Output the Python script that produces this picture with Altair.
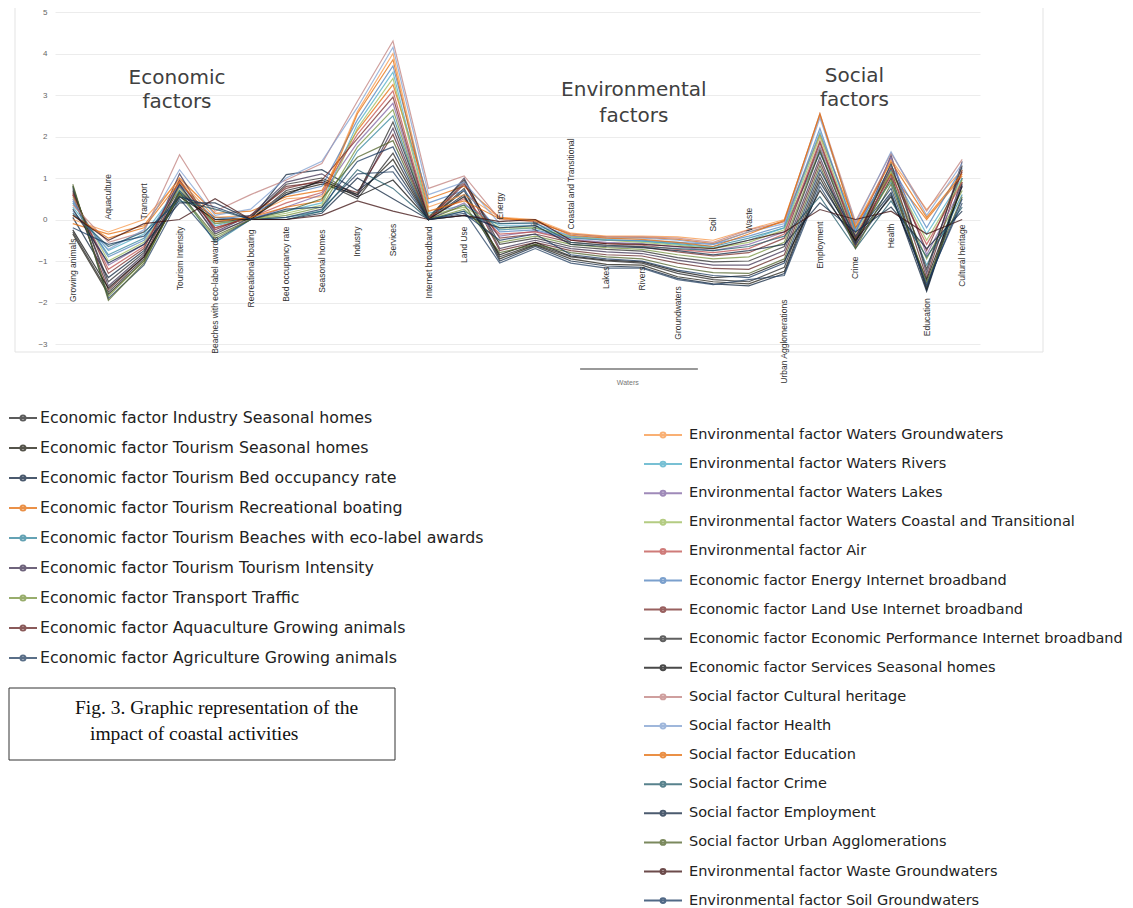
import altair as alt
import pandas as pd

categories = ["Growing animals", "Aquaculture", "Transport", "Tourism Intensity",
              "Beaches with eco-label awards", "Recreational boating", "Bed occupancy rate",
              "Seasonal homes", "Industry", "Services", "Internet broadband", "Land Use",
              "Energy", "Air", "Coastal and Transitional", "Lakes", "Rivers", "Groundwaters",
              "Soil", "Waste", "Urban Agglomerations", "Employment", "Crime", "Health",
              "Education", "Cultural heritage"]

# label anchor (value) and whether the label hangs below the anchor ("top") or rises above it ("bottom")
label_anchor = [-0.46, 0.0, 0.0, -0.17, -0.41, -0.24, -0.17, -0.24, -0.17, -0.1, -0.17, -0.17,
                0.0, -0.29, -0.24, -1.13, -1.13, -1.61, -0.29, -0.29, -1.93, -0.05, -0.89, -0.1,
                -1.9, -0.12]
label_side = ["top", "bottom", "bottom", "top", "top", "top", "top", "top", "top", "top", "top", "top",
              "bottom", "bottom", "bottom", "top", "top", "top", "bottom", "bottom", "top", "top", "top", "top",
              "top", "top"]

left_series = ["Economic factor Industry Seasonal homes",
               "Economic factor Tourism Seasonal homes",
               "Economic factor Tourism Bed occupancy rate",
               "Economic factor Tourism Recreational boating",
               "Economic factor Tourism Beaches with eco-label awards",
               "Economic factor Tourism Tourism Intensity",
               "Economic factor Transport Traffic",
               "Economic factor Aquaculture Growing animals",
               "Economic factor Agriculture Growing animals"]
right_series = ["Environmental factor Waters Groundwaters",
                "Environmental factor Waters Rivers",
                "Environmental factor Waters Lakes",
                "Environmental factor Waters Coastal and Transitional",
                "Environmental factor Air",
                "Economic factor Energy Internet broadband",
                "Economic factor Land Use Internet broadband",
                "Economic factor Economic Performance  Internet broadband",
                "Economic factor Services Seasonal homes",
                "Social factor Cultural heritage",
                "Social factor Health",
                "Social factor Education",
                "Social factor Crime",
                "Social factor Employment",
                "Social factor Urban Agglomerations",
                "Environmental factor Waste Groundwaters",
                "Environmental factor Soil Groundwaters"]

left_colors = ["#262626", "#1d1b10", "#0f243e", "#e46c0a", "#31849b", "#3f3151", "#76923c", "#632423", "#244061"]
right_colors = ["#f79646", "#4bacc6", "#8064a2", "#9bbb59", "#c0504d", "#4f81bd", "#772c2a", "#2b2b2b",
                "#0d0d0d", "#c0807e", "#7f9fd0", "#e36c09", "#215968", "#10253f", "#4f6228", "#3c0f0f", "#17375e"]

# values per series, in category order
econ_industry_seasonal = [-0.3, -1.75, -0.95, 0.7, -0.1, 0.0, 0.7, 0.9, 0.5, 1.6, 0.0, 0.75, -0.9, -0.6, -0.9, -1.0, -1.05, -1.3, -1.45, -1.5, -1.15, 1.1, -0.5, 1.1, -1.65, 1.0]
econ_tourism_seasonal = [-0.35, -1.8, -1.0, 0.65, -0.05, 0.0, 0.65, 0.85, 0.6, 1.45, 0.0, 0.7, -0.95, -0.62, -0.95, -1.08, -1.1, -1.38, -1.5, -1.55, -1.25, 1.0, -0.55, 1.0, -1.7, 0.9]
econ_tourism_bed = [0.05, -1.4, -0.75, 0.6, 0.05, 0.0, 1.08, 1.2, 0.7, 1.3, 0.0, 0.6, -1.0, -0.65, -1.0, -1.12, -1.15, -1.42, -1.55, -1.6, -1.3, 0.9, -0.45, 0.65, -1.73, 0.85]
econ_tourism_boating = [-0.1, -0.35, -0.15, 1.0, 0.15, 0.2, 0.55, 0.7, 2.15, 3.25, 0.5, 0.8, 0.05, -0.05, -0.35, -0.42, -0.43, -0.48, -0.58, -0.3, -0.05, 2.05, -0.1, 1.1, 0.0, 1.05]
econ_tourism_beaches = [0.4, -0.85, -0.45, 0.7, -0.55, 0.0, 0.05, 0.2, 1.65, 2.5, 0.0, 0.2, -0.25, -0.2, -0.44, -0.5, -0.52, -0.58, -0.65, -0.45, -0.2, 1.6, -0.2, 0.9, -1.1, 0.6]
econ_tourism_intensity = [0.75, -1.6, -0.85, 1.1, -0.3, 0.1, 0.9, 1.1, 0.55, 2.2, 0.0, 1.0, -0.7, -0.5, -0.7, -0.78, -0.82, -0.98, -1.1, -1.1, -0.75, 1.5, -0.6, 1.55, -1.3, 1.4]
econ_transport_traffic = [0.8, -1.85, -1.0, 0.6, -0.45, 0.0, 0.1, 0.3, 1.75, 2.65, 0.0, 0.25, -0.55, -0.4, -0.6, -0.68, -0.72, -0.85, -0.95, -0.9, -0.55, 1.7, -0.5, 0.95, -0.95, 0.7]
econ_aquaculture_animals = [0.6, -1.7, -0.9, 0.8, -0.2, 0.05, 0.8, 0.9, 0.65, 2.05, 0.0, 0.9, -0.75, -0.55, -0.75, -0.85, -0.88, -1.05, -1.18, -1.2, -0.85, 1.4, -0.65, 1.2, -1.4, 1.2]
econ_agriculture_animals = [0.8, -1.9, -1.1, 0.5, -0.5, 0.0, 0.05, 0.25, 1.1, 1.15, 0.0, 0.2, -1.05, -0.7, -1.05, -1.17, -1.17, -1.45, -1.57, -1.45, -1.35, 0.8, -0.6, 0.6, -1.55, 0.4]
env_waters_groundwaters = [0.0, -0.3, 0.0, 0.95, 0.05, 0.1, 0.5, 0.55, 2.6, 4.0, 0.3, 0.6, 0.05, 0.0, -0.33, -0.4, -0.4, -0.42, -0.5, -0.24, 0.0, 2.5, -0.15, 1.45, 0.24, 1.2]
env_waters_rivers = [0.3, -0.75, -0.35, 0.8, -0.15, 0.05, 0.2, 0.4, 2.3, 3.55, 0.15, 0.35, -0.15, -0.15, -0.4, -0.48, -0.52, -0.6, -0.68, -0.5, -0.2, 2.1, -0.25, 1.2, -0.35, 1.0]
env_waters_lakes = [0.5, -1.1, -0.6, 0.8, -0.3, 0.0, 0.3, 0.6, 1.85, 2.8, 0.0, 0.4, -0.4, -0.28, -0.48, -0.55, -0.58, -0.66, -0.75, -0.6, -0.3, 1.75, -0.3, 1.5, -0.85, 0.8]
env_waters_coastal = [0.55, -1.0, -0.55, 0.75, -0.1, 0.0, 0.15, 0.35, 2.2, 3.4, 0.1, 0.3, -0.2, -0.2, -0.42, -0.5, -0.55, -0.62, -0.7, -0.55, -0.25, 2.0, -0.35, 1.15, -0.5, 0.95]
env_air = [0.6, -1.2, -0.65, 0.9, -0.2, 0.05, 0.4, 0.65, 2.05, 3.1, 0.05, 0.5, -0.35, -0.3, -0.5, -0.58, -0.62, -0.72, -0.8, -0.7, -0.35, 1.9, -0.4, 1.05, -0.6, 0.9]
econ_energy_broadband = [0.45, -0.9, -0.5, 0.85, 0.0, 0.1, 0.6, 0.8, 2.4, 3.7, 0.4, 0.7, -0.3, -0.25, -0.45, -0.5, -0.5, -0.55, -0.6, -0.4, -0.15, 2.2, -0.3, 1.3, -0.2, 1.25]
econ_landuse_broadband = [0.65, -1.3, -0.7, 0.95, -0.25, 0.1, 0.75, 0.95, 1.95, 2.95, 0.0, 0.85, -0.45, -0.35, -0.55, -0.62, -0.66, -0.78, -0.88, -0.8, -0.45, 1.85, -0.45, 1.25, -0.75, 1.15]
econ_performance_broadband = [0.7, -1.5, -0.8, 0.85, -0.35, 0.05, 0.85, 1.0, 0.6, 2.35, 0.05, 0.95, -0.6, -0.45, -0.65, -0.72, -0.76, -0.92, -1.02, -1.0, -0.65, 1.65, -0.55, 1.35, -1.2, 1.3]
econ_services_seasonal = [-0.25, -1.65, -0.9, 0.55, 0.0, 0.0, 0.6, 0.95, 0.55, 0.95, 0.0, 0.55, -0.85, -0.55, -0.88, -0.98, -1.02, -1.25, -1.4, -1.35, -1.0, 0.7, -0.5, 0.55, -1.45, 0.8]
soc_cultural = [0.35, -0.55, -0.3, 1.56, 0.2, 0.6, 0.95, 1.35, 2.85, 4.3, 0.75, 1.05, 0.0, -0.05, -0.35, -0.42, -0.42, -0.45, -0.55, -0.25, -0.05, 2.55, -0.05, 1.6, 0.2, 1.45]
soc_health = [0.2, -0.72, -0.25, 1.2, 0.1, 0.25, 1.0, 1.4, 2.7, 4.15, 0.6, 0.9, -0.1, -0.1, -0.4, -0.45, -0.45, -0.5, -0.6, -0.3, -0.1, 2.45, -0.1, 1.63, 0.1, 1.35]
soc_education = [0.1, -0.45, -0.2, 0.9, -0.05, 0.05, 0.3, 0.45, 2.55, 3.85, 0.2, 0.45, 0.02, -0.02, -0.38, -0.45, -0.48, -0.55, -0.65, -0.35, -0.02, 2.55, -0.2, 1.4, 0.05, 1.1]
soc_crime = [0.15, -0.65, -0.3, 0.45, 0.25, 0.0, 0.0, 0.2, 1.2, 0.75, 0.0, 0.1, -0.1, -0.08, -0.55, -0.62, -0.65, -0.7, -0.75, -0.65, -0.4, 0.55, -0.7, 0.45, -0.9, 0.3]
soc_employment = [0.25, -1.05, -0.6, 0.4, 0.4, 0.0, 0.0, 0.15, 1.0, 0.5, 0.0, 0.1, -0.2, -0.15, -0.6, -0.65, -0.68, -0.75, -0.85, -0.75, -0.6, 0.4, -0.3, 0.3, -0.7, 0.2]
soc_urban = [0.85, -1.95, -1.05, 0.65, -0.4, 0.0, 0.2, 0.5, 1.5, 1.9, 0.0, 0.35, -0.8, -0.6, -0.8, -0.9, -0.95, -1.15, -1.28, -1.3, -0.95, 1.3, -0.7, 0.85, -1.5, 0.55]
env_waste_groundwaters = [0.1, -0.5, -0.1, 0.0, 0.5, 0.0, 0.0, 0.1, 0.45, 0.2, 0.0, 0.1, -0.05, 0.0, -0.5, -0.58, -0.6, -0.65, -0.7, -0.5, -0.3, 0.24, 0.0, 0.2, -0.35, 0.0]
env_soil_groundwaters = [-0.2, -0.6, -0.4, 0.55, 0.3, 0.0, 0.25, 0.3, 1.4, 1.75, 0.0, 0.15, -0.5, -0.35, -0.85, -0.95, -1.0, -1.22, -1.35, -1.4, -1.05, 1.2, -0.4, 0.75, -1.6, 0.5]

left_values = [econ_industry_seasonal, econ_tourism_seasonal, econ_tourism_bed, econ_tourism_boating,
               econ_tourism_beaches, econ_tourism_intensity, econ_transport_traffic,
               econ_aquaculture_animals, econ_agriculture_animals]
right_values = [env_waters_groundwaters, env_waters_rivers, env_waters_lakes, env_waters_coastal, env_air,
                econ_energy_broadband, econ_landuse_broadband, econ_performance_broadband,
                econ_services_seasonal, soc_cultural, soc_health, soc_education, soc_crime,
                soc_employment, soc_urban, env_waste_groundwaters, env_soil_groundwaters]

group_titles = [("Economic", 2.93, 3.4), ("factors", 2.93, 2.82),
                ("Environmental", 15.77, 3.13), ("factors", 15.77, 2.5),
                ("Social", 21.97, 3.45), ("factors", 21.97, 2.87)]

rows = []
for grp, names, vals in (("left", left_series, left_values), ("right", right_series, right_values)):
    for name, series in zip(names, vals):
        for i, v in enumerate(series):
            rows.append({"group": grp, "series": name, "idx": i, "value": v})
df = pd.DataFrame(rows)

df_labels = pd.DataFrame({"idx": list(range(len(categories))), "value": label_anchor,
                          "text": categories, "side": label_side})
df_titles = pd.DataFrame(group_titles, columns=["text", "idx", "value"])
df_waters = pd.DataFrame({"idx": [14.26], "idx2": [17.57], "value": [-3.6]})
df_waters_text = pd.DataFrame({"idx": [15.6], "value": [-3.95], "text": ["Waters"]})

X = alt.X("idx:Q", scale=alt.Scale(domain=[-0.5, 25.5], nice=False, zero=False), axis=None)
Y = alt.Y("value:Q", scale=alt.Scale(domain=[-3, 5], nice=False, zero=False),
          axis=alt.Axis(values=list(range(-3, 6)), title=None, grid=True, gridColor="#ececec",
                        domain=False, ticks=False, labelFontSize=8, labelColor="#666666",
                        labelFont="Liberation Sans", labelPadding=8))

def sym(r):
    return ("M-1,0L1,0M-{r},0A{r},{r},0,1,1,{r},0A{r},{r},0,1,1,-{r},0Z").format(r=r)

def legend(x, y, size, r, pad, font_size, offset):
    return alt.Legend(orient="none", legendX=x, legendY=y, title=None, direction="vertical",
                      symbolType=sym(r), symbolSize=size, symbolStrokeWidth=2,
                      labelFont="DejaVu Sans", labelFontSize=font_size, labelColor="#222222",
                      labelOffset=offset, rowPadding=pad, labelLimit=700)

lines_left = alt.Chart(df).transform_filter(alt.datum.group == "left").mark_line(
    strokeWidth=1.2, opacity=0.75).encode(
    x=X, y=Y,
    color=alt.Color("series:N", scale=alt.Scale(domain=left_series, range=left_colors),
                    legend=legend(-47, 391, 784, 0.18, 7.0, 15.8, 2)))

lines_right = alt.Chart(df).transform_filter(alt.datum.group == "right").mark_line(
    strokeWidth=1.2, opacity=0.75).encode(
    x=X, y=Y,
    stroke=alt.Stroke("series:N", scale=alt.Scale(domain=right_series, range=right_colors),
                      legend=legend(588, 403, 1444, 0.13, 2.1, 14.5, 6)))

labels_top = alt.Chart(df_labels).transform_filter(alt.datum.side == "top").mark_text(
    angle=270, align="right", baseline="middle", font="Liberation Sans", fontSize=8.5,
    color="#333333").encode(x=X, y=Y, text="text:N")
labels_bottom = alt.Chart(df_labels).transform_filter(alt.datum.side == "bottom").mark_text(
    angle=270, align="left", baseline="middle", font="Liberation Sans", fontSize=8.5,
    color="#333333").encode(x=X, y=Y, text="text:N")

titles = alt.Chart(df_titles).mark_text(font="DejaVu Sans", fontSize=20, color="#404040").encode(
    x=X, y=Y, text="text:N")

waters_rule = alt.Chart(df_waters).mark_rule(color="#777777", strokeWidth=1.5).encode(
    x=X, x2="idx2:Q", y=Y)
waters_text = alt.Chart(df_waters_text).mark_text(font="Liberation Sans", fontSize=7,
                                                  color="#777777").encode(x=X, y=Y, text="text:N")

one = pd.DataFrame({"a": [0]})
frame = alt.Chart(one).mark_rect(fillOpacity=0, stroke="#e3e3e3", strokeWidth=1).encode(
    x=alt.value(-40), x2=alt.value(988), y=alt.value(-6), y2=alt.value(340))
caption_box = alt.Chart(one).mark_rect(fillOpacity=0, stroke="#333333", strokeWidth=1).encode(
    x=alt.value(-46), x2=alt.value(340), y=alt.value(676), y2=alt.value(748))
caption1 = alt.Chart(one).mark_text(font="Liberation Serif", fontSize=19.5, align="left",
                                    baseline="middle", color="#111111").encode(
    x=alt.value(20), y=alt.value(696), text=alt.value("Fig. 3. Graphic representation of the"))
caption2 = alt.Chart(one).mark_text(font="Liberation Serif", fontSize=19.5, align="left",
                                    baseline="middle", color="#111111").encode(
    x=alt.value(35), y=alt.value(722), text=alt.value("impact of coastal activities"))

chart = alt.layer(frame, lines_left, lines_right, labels_top, labels_bottom, titles,
                  waters_rule, waters_text, caption_box, caption1, caption2).properties(
    width=925, height=332,
    autosize=alt.AutoSizeParams(type="none"),
    padding={"left": 47, "top": 4, "right": 145, "bottom": 566}
).resolve_scale(color="independent", stroke="independent").configure_view(strokeWidth=0)

chart.save("out.html", embed_options={"renderer": "svg", "actions": False})
